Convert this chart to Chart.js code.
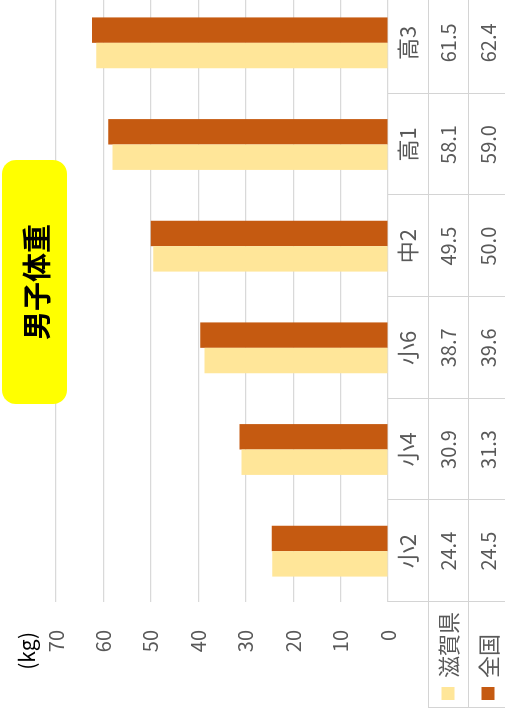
<!DOCTYPE html>
<html><head><meta charset="utf-8">
<script src="https://cdn.jsdelivr.net/npm/chart.js@4/dist/chart.umd.min.js"></script>
<style>
html,body{margin:0;padding:0;overflow:hidden;background:#fff;width:505px;height:724px;}
#wrap{position:absolute;left:0;top:0;width:740px;height:505px;transform-origin:0 0;transform:translateY(724px) rotate(-90deg);}
#c{position:absolute;left:0;top:0;}
#title{position:absolute;left:320px;top:2px;width:244px;height:65px;background:#ffff00;border-radius:14px;font:bold 29px 'Noto Sans CJK JP',sans-serif;color:#000;display:flex;align-items:center;justify-content:center;}
#unit{position:absolute;left:0;width:92px;text-align:right;top:12px;font-family:'Noto Sans CJK JP',sans-serif;font-size:21px;line-height:28px;color:#000;white-space:nowrap;}
</style></head>
<body>
<div id="wrap">
<canvas id="c" width="740" height="505"></canvas>
<div id="title">男子体重</div>
<div id="unit">(kg)</div>
</div>
<script>
const categories = ['小2','小4','小6','中2','高1','高3'];
const seriesNames = ['滋賀県','全国'];
const shigaValues = [24.4, 30.9, 38.7, 49.5, 58.1, 61.5];
const zenkokuValues = [24.5, 31.3, 39.6, 50.0, 59.0, 62.4];
const seriesColors = ['#FFE699','#C55A11'];

const FONT = "'Noto Sans CJK JP', sans-serif";
Chart.defaults.font.family = FONT;

const tablePlugin = {
  id: 'dataTable',
  afterDraw(chart) {
    const {ctx, chartArea: a, scales: {x}} = chart;
    const top = a.bottom, r1 = top + 40, r2 = top + 80, bot = chart.height;
    const legendLeft = 16;
    const half = (x.getPixelForValue(1) - x.getPixelForValue(0)) / 2;
    ctx.save();
    ctx.strokeStyle = '#d4d4d4';
    ctx.lineWidth = 1;
    ctx.beginPath();
    for (let i = 0; i <= categories.length; i++) {
      const px = Math.round(x.getPixelForValue(i) - half) + 0.5;
      ctx.moveTo(px, top); ctx.lineTo(px, bot);
    }
    const L = Math.round(legendLeft) + 0.5;
    ctx.moveTo(L, r1); ctx.lineTo(L, bot);
    [r1, r2].forEach(yv => { const y = Math.round(yv) + 0.5; ctx.moveTo(legendLeft, y); ctx.lineTo(a.right, y); });
    ctx.stroke();

    ctx.textAlign = 'center';
    ctx.textBaseline = 'middle';
    ctx.fillStyle = '#595959';
    const rows = [shigaValues, zenkokuValues];
    categories.forEach((c, i) => {
      const cx = x.getPixelForValue(i);
      ctx.font = '22px ' + FONT;
      ctx.fillText(c, cx, top + 20);
      ctx.font = '20px ' + FONT;
      rows.forEach((arr, k) => ctx.fillText(arr[i].toFixed(1), cx, top + 60 + 40 * k));
    });
    ctx.textAlign = 'left';
    ctx.font = '22px ' + FONT;
    seriesNames.forEach((n, k) => {
      const cy = top + 60 + 40 * k;
      ctx.fillStyle = seriesColors[k];
      ctx.fillRect(24, cy - 6.5, 13, 13);
      ctx.fillStyle = '#595959';
      ctx.fillText(n, 46, cy + 1);
    });
    ctx.restore();
  }
};

new Chart(document.getElementById('c'), {
  type: 'bar',
  data: {
    labels: categories,
    datasets: [
      {label: seriesNames[0], data: shigaValues, backgroundColor: seriesColors[0]},
      {label: seriesNames[1], data: zenkokuValues, backgroundColor: seriesColors[1]}
    ]
  },
  options: {
    responsive: false,
    animation: false,
    devicePixelRatio: 1,
    layout: {padding: {top: 56, right: 8, left: 0, bottom: 0}},
    datasets: {bar: {categoryPercentage: 0.5, barPercentage: 1.0}},
    plugins: {legend: {display: false}, tooltip: {enabled: false}},
    scales: {
      x: {
        grid: {display: false},
        border: {display: false},
        ticks: {display: false},
        afterFit: s => { s.height = 117; }
      },
      y: {
        min: 0, max: 70,
        ticks: {stepSize: 10, padding: 28, color: '#595959', font: {size: 20}},
        grid: {color: '#d9d9d9', lineWidth: 1.2, drawTicks: false},
        border: {display: false},
        afterFit: s => { s.width = 122; }
      }
    }
  },
  plugins: [tablePlugin]
});
</script>
</body></html>
